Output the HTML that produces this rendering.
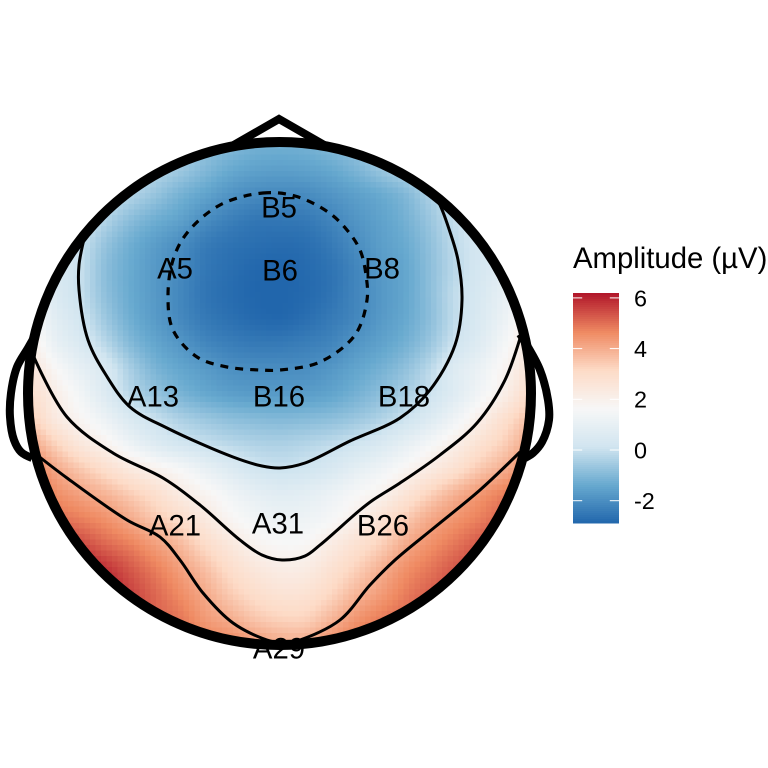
<!DOCTYPE html>
<html lang="en">
<head>
<meta charset="utf-8">
<title>Topographic amplitude map</title>
<style>
html,body{margin:0;padding:0;background:#fff;}
svg{display:block;font-family:"Liberation Sans",sans-serif;}
</style>
</head>
<body>
<svg id="chart" width="768" height="768" viewBox="0 0 768 768" xmlns="http://www.w3.org/2000/svg">
  <rect width="768" height="768" fill="#ffffff"/>
  <g id="raster" shape-rendering="crispEdges"></g>
  <g id="contours" fill="none" stroke="#000" stroke-width="3" stroke-linecap="butt"></g>
  <g id="head" fill="none" stroke="#000"></g>
  <g id="labels" font-size="29.3" fill="#000" text-anchor="middle"></g>
  <text x="573" y="268" font-size="29.3" fill="#000">Amplitude (µV)</text>
  <g id="legend"></g>
</svg>
<script>
// Head-map axis: one unit = 2 px, origin near the middle of the head.
const gridStepX = 12.5;
const gridStepY = 12.5;
const gridOriginX = -125;
const gridOriginY = 125;

// Amplitude (µV), row by row from front to back of the head.
const amplitudeGrid = [
[1,0.8,0.6,0.3,0,-0.2,-0.5,-0.8,-1.0,-1.2,-1.25,-1.2,-1.0,-0.8,-0.5,-0.2,0,0.2,0.4,0.6,0.8],
[1,0.8,0.6,0.3,0,-0.3,-0.6,-1.0,-1.35,-1.55,-1.6,-1.55,-1.4,-1.1,-0.7,-0.35,0,0.2,0.4,0.6,0.8],
[0.8,0.6,0.4,0.1,-0.3,-0.7,-1.15,-1.5,-1.85,-2.05,-2.1,-2.05,-1.85,-1.6,-1.35,-1.0,-0.4,0.1,0.3,0.5,0.7],
[0.7,0.5,0.3,-0.3,-0.85,-1.25,-1.55,-2.0,-2.3,-2.5,-2.5,-2.45,-2.2,-1.85,-1.55,-1.2,-0.65,-0.05,0.3,0.5,0.7],
[0.7,0.5,0.05,-0.7,-1.25,-1.65,-2.0,-2.4,-2.6,-2.7,-2.75,-2.7,-2.45,-2.05,-1.65,-1.35,-0.8,-0.15,0.25,0.5,0.7],
[0.9,0.45,0,-0.85,-1.35,-1.75,-2.1,-2.5,-2.7,-2.85,-2.9,-2.8,-2.6,-2.2,-1.75,-1.45,-0.85,-0.2,0.3,0.7,1.0],
[1.4,0.55,0,-0.8,-1.35,-1.75,-2.15,-2.55,-2.75,-2.88,-2.9,-2.82,-2.6,-2.2,-1.8,-1.45,-0.85,-0.1,0.4,1.0,1.5],
[1.7,0.8,0.2,-0.6,-1.25,-1.7,-2.1,-2.45,-2.65,-2.8,-2.85,-2.7,-2.45,-2.15,-1.75,-1.4,-0.85,-0.1,0.5,1.2,2],
[2.1,1.1,0.5,-0.2,-0.95,-1.45,-1.8,-2.15,-2.35,-2.45,-2.45,-2.35,-2.2,-1.85,-1.55,-1.2,-0.65,0.1,0.7,1.5,2.3],
[2.6,1.7,1,0.4,-0.45,-1.1,-1.45,-1.7,-1.95,-2.02,-2.02,-2,-1.8,-1.5,-1.2,-0.8,-0.2,0.6,1.15,1.85,2.6],
[2.9,2.15,1.4,0.6,-0.2,-0.7,-1.1,-1.4,-1.6,-1.7,-1.7,-1.65,-1.5,-1.2,-0.85,-0.45,0.05,0.7,1.4,2.15,3],
[3.4,2.4,1.8,1.2,0.5,0,-0.4,-0.65,-0.85,-0.95,-1.0,-0.95,-0.85,-0.65,-0.35,0.05,0.6,1.3,2.1,2.9,3.6],
[4.1,3.3,2.5,1.95,1.25,0.65,0.25,0,-0.2,-0.35,-0.4,-0.3,-0.15,0.1,0.45,0.95,1.5,2.1,2.8,3.4,4.1],
[4.9,4.1,3.5,2.95,2.4,1.95,1.55,1.05,0.6,0.2,0.05,0.15,0.4,0.85,1.25,1.75,2.3,2.85,3.5,4.0,4.6],
[5.3,4.6,4.2,3.85,3.4,2.9,2.3,1.85,1.35,0.95,0.75,0.85,1.15,1.55,1.95,2.6,3.3,3.9,4.4,4.8,5.2],
[5.9,5.1,4.8,4.5,4.05,3.5,3,2.4,1.8,1.4,1.2,1.25,1.55,2.05,2.7,3.4,4.05,4.45,4.8,5.2,5.6],
[6.1,5.7,5.5,5.1,4.75,4.25,3.75,3.05,2.45,1.9,1.65,1.7,2.2,2.75,3.3,4,4.5,4.9,5.3,5.6,5.9],
[6.1,6.1,6.1,5.8,5.3,4.8,4.25,3.65,3,2.5,2.2,2.25,2.75,3.3,3.9,4.5,4.9,5.3,5.6,5.9,6],
[6.1,6.1,6.1,6.1,5.6,5.1,4.6,4.05,3.45,3,2.7,2.75,3.2,3.8,4.3,4.8,5.2,5.5,5.7,6,6],
[6.1,6.1,6.1,6.1,5.7,5.2,4.9,4.35,4.0,3.55,3.3,3.3,3.8,4.4,4.8,5.1,5.4,5.6,5.8,6,6],
[6.1,6.1,6.1,6.1,5.9,5.5,5.2,4.8,4.6,4.3,4,4,4.5,4.9,5.2,5.4,5.6,5.8,5.9,6,6]
];

// Contour levels, in head-map units.
const contourLevelMinus2 = [[-8.5,100.5],[7.5,99],[24,91],[33.5,82],[40,72],[43,59.5],[43.5,47],[37.5,29.5],[20,16],[0,12],[-10,12],[-26.5,13.5],[-41.5,18.5],[-53.5,32],[-56,48.5],[-53.5,67],[-46.5,80.5],[-30,94.5]];
const contourLevel0 = [[-97.5,79.5],[-100.5,64.5],[-100.5,52],[-96,27],[-87,9.5],[-75,-6.5],[-56.5,-17],[-23.5,-31.5],[-9,-36],[0,-37],[12.5,-34.5],[35,-23.5],[60,-12],[75,2],[87.5,24.5],[91,47],[89,67],[85,81],[80,94.5],[78,98]];
const contourLevel2 = [[-123.5,19.5],[-106.5,-11.5],[-83.5,-29.5],[-58.5,-42],[-40,-55.5],[-20,-73],[-9,-80.5],[1,-83],[12.5,-81],[20,-75.5],[40,-58],[46.5,-53],[60,-44.5],[80,-30.5],[98.5,-14.5],[112.5,7],[120.5,29.5]];
const contourLevel4 = [[-121.5,-30.5],[-106.5,-42],[-76.5,-63],[-60,-71.5],[-50,-83],[-38.5,-99.5],[-23.5,-114.5],[-6.5,-123],[2.5,-124.5],[10,-123],[30,-113],[45,-95.5],[57.5,-83],[77.5,-66.5],[100,-48],[120,-29]];

// Electrodes.
const electrodeNames = ["B5","A5","B6","B8","A13","B16","B18","A21","A31","B26","A29"];
const electrodeX = [-0.5,-52.5,0,51,-63.5,-0.5,62,-52.5,-1,51.5,-0.5];
const electrodeY = [93.5,63,62,63,-1,-1,-1,-65.5,-64.5,-65.5,-127];

// Head furniture.
const headCentre = [-0.25,0.25];
const headRadius = 125.75;
const nosePoints = [[-24,124],[-0.5,137.5],[23,124]];
const leftEarPoints = [[-122,30],[-126,23],[-131.5,13.5],[-134.5,0.5],[-135,-11.5],[-133,-23],[-129.5,-29],[-124,-32]];
const rightEarPoints = [[120,30],[124,23.5],[130,12],[134,-3],[134.5,-13],[131,-24],[126.5,-29.5],[122.5,-32]];

// Colour scale and legend.
const scaleLimits = [-2.9,6.15];
const legendTicks = [-2,0,2,4,6];
const legendTickLabels = ["-2","0","2","4","6"];
const paletteStops = ["#2166AC","#67A9CF","#D1E5F0","#F7F7F7","#FDDBC7","#EF8A62","#B2182B"];

const SVG_NS = "http://www.w3.org/2000/svg";
function xScale(x){ return 280 + x * 2; }
function yScale(y){ return 394 - y * 2; }
function legendY(v){ return 450 - v * 25.35; }

function hexToRgb(h){ return [1,3,5].map(function(i){ return parseInt(h.substr(i,2),16); }); }
const paletteRgb = paletteStops.map(hexToRgb);
function colorFor(v){
  let t = (v - scaleLimits[0]) / (scaleLimits[1] - scaleLimits[0]);
  t = Math.max(0, Math.min(1, t)) * (paletteRgb.length - 1);
  const i = Math.min(paletteRgb.length - 2, Math.floor(t));
  const f = t - i;
  const a = paletteRgb[i], b = paletteRgb[i + 1];
  return "rgb(" + Math.round(a[0] + (b[0]-a[0])*f) + "," + Math.round(a[1] + (b[1]-a[1])*f) + "," + Math.round(a[2] + (b[2]-a[2])*f) + ")";
}

function cubic(p0,p1,p2,p3,t){
  return 0.5 * (2*p1 + (p2-p0)*t + (2*p0-5*p1+4*p2-p3)*t*t + (3*p1-p0-3*p2+p3)*t*t*t);
}
function gridAt(r,c){
  const rr = Math.max(0, Math.min(amplitudeGrid.length-1, r));
  const cc = Math.max(0, Math.min(amplitudeGrid[0].length-1, c));
  return amplitudeGrid[rr][cc];
}
function sampleField(x,y){
  const fc = (x - gridOriginX) / gridStepX;
  const fr = (gridOriginY - y) / gridStepY;
  const c = Math.floor(fc), r = Math.floor(fr);
  const tc = fc - c, tr = fr - r;
  const rows = [];
  for (let k = -1; k <= 2; k++) {
    rows.push(cubic(gridAt(r+k,c-1),gridAt(r+k,c),gridAt(r+k,c+1),gridAt(r+k,c+2),tc));
  }
  return cubic(rows[0],rows[1],rows[2],rows[3],tr);
}

// Centripetal Catmull-Rom converted to cubic Beziers.
function smoothPath(points, closed){
  const pts = points.map(function(p){ return [xScale(p[0]), yScale(p[1])]; });
  const n = pts.length;
  function at(i){
    if (closed) return pts[(i + n) % n];
    return pts[Math.max(0, Math.min(n-1, i))];
  }
  function chord(a,b){ return Math.max(1e-3, Math.pow(Math.hypot(a[0]-b[0], a[1]-b[1]), 0.5)); }
  let d = "M" + pts[0][0] + " " + pts[0][1];
  const segs = closed ? n : n - 1;
  for (let i = 0; i < segs; i++) {
    const p0 = at(i-1), p1 = at(i), p2 = at(i+1), p3 = at(i+2);
    const d1 = chord(p0,p1), d2 = chord(p1,p2), d3 = chord(p2,p3);
    const c1 = [0,1].map(function(k){
      return (d1*d1*p2[k] - d2*d2*p0[k] + (2*d1*d1 + 3*d1*d2 + d2*d2)*p1[k]) / (3*d1*(d1+d2));
    });
    const c2 = [0,1].map(function(k){
      return (d3*d3*p1[k] - d2*d2*p3[k] + (2*d3*d3 + 3*d3*d2 + d2*d2)*p2[k]) / (3*d3*(d3+d2));
    });
    d += "C" + c1[0].toFixed(2) + " " + c1[1].toFixed(2) + " " + c2[0].toFixed(2) + " " + c2[1].toFixed(2) + " " + p2[0].toFixed(2) + " " + p2[1].toFixed(2);
  }
  return closed ? d + "Z" : d;
}

// Heatmap cells
const rasterGroup = document.getElementById("raster");
const cellSize = 2.75;
for (let gy = 128; gy > -128; gy -= cellSize) {
  for (let gx = -128; gx < 128; gx += cellSize) {
    const mx = gx + cellSize / 2, my = gy - cellSize / 2;
    const dx = mx - headCentre[0], dy = my - headCentre[1];
    if (dx*dx + dy*dy > 126.3*126.3) continue;
    const cell = document.createElementNS(SVG_NS, "rect");
    cell.setAttribute("x", xScale(gx).toFixed(2));
    cell.setAttribute("y", yScale(gy).toFixed(2));
    cell.setAttribute("width", (cellSize*2 + 0.3).toFixed(2));
    cell.setAttribute("height", (cellSize*2 + 0.3).toFixed(2));
    cell.setAttribute("fill", colorFor(sampleField(mx, my)));
    
    
    rasterGroup.appendChild(cell);
  }
}

// Contours
const contourGroup = document.getElementById("contours");
const dashedContour = document.createElementNS(SVG_NS, "path");
dashedContour.setAttribute("d", smoothPath(contourLevelMinus2, true));
dashedContour.setAttribute("stroke-dasharray", "8 7");
dashedContour.setAttribute("stroke-width", "3.2");


contourGroup.appendChild(dashedContour);
const contour0Path = document.createElementNS(SVG_NS, "path");
contour0Path.setAttribute("d", smoothPath(contourLevel0, false));


contourGroup.appendChild(contour0Path);
const contour2Path = document.createElementNS(SVG_NS, "path");
contour2Path.setAttribute("d", smoothPath(contourLevel2, false));


contourGroup.appendChild(contour2Path);
const contour4Path = document.createElementNS(SVG_NS, "path");
contour4Path.setAttribute("d", smoothPath(contourLevel4, false));


contourGroup.appendChild(contour4Path);

// Head, nose, ears
const headGroup = document.getElementById("head");
const nose = document.createElementNS(SVG_NS, "polyline");
nose.setAttribute("points", nosePoints.map(function(p){ return xScale(p[0]) + "," + yScale(p[1]); }).join(" "));
nose.setAttribute("stroke-width", "8");
nose.setAttribute("stroke-miterlimit", "6");


headGroup.appendChild(nose);
const leftEar = document.createElementNS(SVG_NS, "path");
leftEar.setAttribute("d", smoothPath(leftEarPoints, false));
leftEar.setAttribute("stroke-width", "8");


headGroup.appendChild(leftEar);
const rightEar = document.createElementNS(SVG_NS, "path");
rightEar.setAttribute("d", smoothPath(rightEarPoints, false));
rightEar.setAttribute("stroke-width", "8");


headGroup.appendChild(rightEar);
const skull = document.createElementNS(SVG_NS, "circle");
skull.setAttribute("cx", xScale(headCentre[0]));
skull.setAttribute("cy", yScale(headCentre[1]));
skull.setAttribute("r", headRadius * 2);
skull.setAttribute("stroke-width", "10");


headGroup.appendChild(skull);

// Electrode labels
const labelGroup = document.getElementById("labels");
electrodeNames.forEach(function(name, i){
  const label = document.createElementNS(SVG_NS, "text");
  label.setAttribute("x", xScale(electrodeX[i]));
  label.setAttribute("y", yScale(electrodeY[i]) + 10.3);
  label.textContent = name;
  
  
  labelGroup.appendChild(label);
});

// Colorbar
const legendGroup = document.getElementById("legend");
const barLeft = 573, barWidth = 46, barTop = 293, barBottom = 523;
const barSteps = 115;
for (let i = 0; i < barSteps; i++) {
  const y0 = barTop + (barBottom - barTop) * i / barSteps;
  const h = (barBottom - barTop) / barSteps;
  const value = (legendY(0) - (y0 + h / 2)) / 25.35;
  const band = document.createElementNS(SVG_NS, "rect");
  band.setAttribute("x", barLeft);
  band.setAttribute("y", y0.toFixed(2));
  band.setAttribute("width", barWidth);
  band.setAttribute("height", (h + 0.4).toFixed(2));
  band.setAttribute("fill", colorFor(value));
  band.setAttribute("shape-rendering", "crispEdges");
  
  
  legendGroup.appendChild(band);
}
legendTicks.forEach(function(tick, i){
  const y = legendY(tick);
  const leftTick = document.createElementNS(SVG_NS, "line");
  leftTick.setAttribute("x1", barLeft);
  leftTick.setAttribute("x2", barLeft + 9.2);
  leftTick.setAttribute("y1", y);
  leftTick.setAttribute("y2", y);
  leftTick.setAttribute("stroke", "#ffffff");
  leftTick.setAttribute("stroke-width", "1");
  
  
  legendGroup.appendChild(leftTick);
  const rightTick = document.createElementNS(SVG_NS, "line");
  rightTick.setAttribute("x1", barLeft + barWidth - 9.2);
  rightTick.setAttribute("x2", barLeft + barWidth);
  rightTick.setAttribute("y1", y);
  rightTick.setAttribute("y2", y);
  rightTick.setAttribute("stroke", "#ffffff");
  rightTick.setAttribute("stroke-width", "1");
  
  
  legendGroup.appendChild(rightTick);
  const tickText = document.createElementNS(SVG_NS, "text");
  tickText.setAttribute("x", 634);
  tickText.setAttribute("y", y + 8.4);
  tickText.setAttribute("font-size", "23.4");
  tickText.setAttribute("fill", "#000");
  tickText.textContent = legendTickLabels[i];
  
  
  legendGroup.appendChild(tickText);
});
</script>
</body>
</html>
